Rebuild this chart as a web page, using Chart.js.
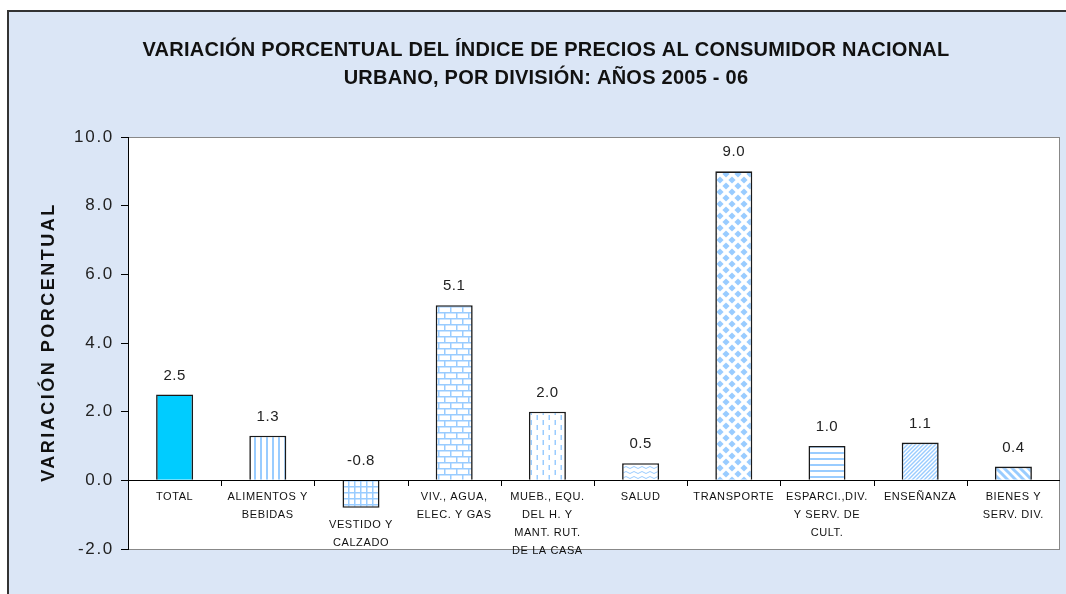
<!DOCTYPE html>
<html><head><meta charset="utf-8">
<script src="https://cdn.jsdelivr.net/npm/chart.js@4.4.1/dist/chart.umd.min.js"></script>
<style>html,body{margin:0;padding:0;background:#fff;}canvas{display:block;}</style>
</head><body>
<canvas id="c" width="1066" height="594"></canvas>
<script>
// ---- data ----
const titleLines = ['VARIACIÓN PORCENTUAL DEL ÍNDICE DE PRECIOS AL CONSUMIDOR NACIONAL', 'URBANO, POR DIVISIÓN: AÑOS 2005 - 06'];
const yAxisTitle = 'VARIACIÓN PORCENTUAL';
const categories = [
  ['TOTAL'],
  ['ALIMENTOS Y', 'BEBIDAS'],
  ['VESTIDO Y', 'CALZADO'],
  ['VIV., AGUA,', 'ELEC. Y GAS'],
  ['MUEB., EQU.', 'DEL H. Y', 'MANT. RUT.', 'DE LA CASA'],
  ['SALUD'],
  ['TRANSPORTE'],
  ['ESPARCI.,DIV.', 'Y SERV. DE', 'CULT.'],
  ['ENSEÑANZA'],
  ['BIENES Y', 'SERV. DIV.']
];
const values = [2.5, 1.3, -0.8, 5.1, 2.0, 0.5, 9.0, 1.0, 1.1, 0.4];
const yTicks = [-2, 0, 2, 4, 6, 8, 10];
const patternKinds = ['solid', 'vlines', 'grid', 'bricks', 'dashes', 'waves', 'diamonds', 'hlines', 'diagUp', 'diagDown'];

// ---- styles ----
const FONT = '"Liberation Sans", Arial, sans-serif';
const BLUE = '#99ccff';
const SOLID = '#00ccff';

function makePattern(kind) {
  if (kind === 'solid') return SOLID;
  const c = document.createElement('canvas');
  const g = c.getContext('2d');
  const sizes = {vlines:[6,1], grid:[6,6], bricks:[12,12], dashes:[12,10], waves:[8,5], diamonds:[12,12], hlines:[1,6], diagUp:[4,4], diagDown:[8,8]};
  const [w, h] = sizes[kind];
  c.width = w; c.height = h;
  g.fillStyle = '#fff'; g.fillRect(0, 0, w, h);
  g.fillStyle = BLUE; g.strokeStyle = BLUE;
  switch (kind) {
    case 'vlines': g.fillRect(2, 0, 2, 1); break;
    case 'grid': g.fillRect(0, 0, 6, 1.5); g.fillRect(0, 0, 1.5, 6); break;
    case 'bricks':
      g.fillRect(0, 0, 12, 1.5); g.fillRect(0, 6, 12, 1.5);
      g.fillRect(0, 0, 1.5, 6); g.fillRect(6, 6, 1.5, 6); break;
    case 'dashes': g.fillRect(2.5, 0, 1.5, 5); g.fillRect(8.5, 5, 1.5, 5); break;
    case 'waves':
      g.lineWidth = 1; g.beginPath(); g.moveTo(0, 2.5);
      g.quadraticCurveTo(2, 0.5, 4, 2.5); g.quadraticCurveTo(6, 4.5, 8, 2.5); g.stroke(); break;
    case 'diamonds': {
      const dia = (cx, cy, r) => { g.beginPath(); g.moveTo(cx, cy - r); g.lineTo(cx + r, cy); g.lineTo(cx, cy + r); g.lineTo(cx - r, cy); g.closePath(); g.fill(); };
      const r = 3.6;
      dia(6, 6, r); dia(0, 0, r); dia(12, 0, r); dia(0, 12, r); dia(12, 12, r); break;
    }
    case 'hlines': g.fillRect(0, 2, 1, 2); break;
    case 'diagUp':
      g.lineWidth = 1.4;
      for (const cc of [0, 4, 8]) { g.beginPath(); g.moveTo(-4, cc + 4); g.lineTo(8, cc - 8); g.stroke(); }
      break;
    case 'diagDown':
      g.lineWidth = 3;
      for (const cc of [-8, 0, 8]) { g.beginPath(); g.moveTo(-8, cc - 8); g.lineTo(16, cc + 16); g.stroke(); }
      break;
  }
  return g.createPattern(c, 'repeat');
}
const backgrounds = patternKinds.map(makePattern);

const deco = {
  id: 'deco',
  beforeDraw(chart) {
    const {ctx, chartArea: a} = chart;
    ctx.save();
    ctx.fillStyle = '#fff'; ctx.fillRect(0, 0, 1066, 594);
    ctx.fillStyle = '#dbe6f6'; ctx.fillRect(8, 11, 1058, 583);
    ctx.strokeStyle = '#333'; ctx.lineWidth = 2;
    ctx.beginPath(); ctx.moveTo(8, 594); ctx.lineTo(8, 11); ctx.lineTo(1066, 11); ctx.stroke();
    ctx.fillStyle = '#fff'; ctx.fillRect(a.left, a.top, a.right - a.left, a.bottom - a.top);
    ctx.strokeStyle = '#888'; ctx.lineWidth = 1;
    ctx.strokeRect(a.left + 0.5, a.top + 0.5, a.right - a.left - 1, a.bottom - a.top);
    // title
    ctx.fillStyle = '#111';
    ctx.font = 'bold 20px ' + FONT;
    ctx.letterSpacing = '0.25px';
    ctx.textAlign = 'center'; ctx.textBaseline = 'middle';
    titleLines.forEach((t, i) => ctx.fillText(t, 546, 50 + i * 28));
    ctx.restore();
    ctx.letterSpacing = '1.7px'; // for y tick labels
  },
  beforeDatasetsDraw(chart) { chart.ctx.letterSpacing = '0px'; },
  afterDatasetsDraw(chart) {
    const {ctx, chartArea: a} = chart;
    const meta = chart.getDatasetMeta(0);
    const ys = chart.scales.y;
    const y0 = ys.getPixelForValue(0);
    ctx.save();
    // zero line
    ctx.strokeStyle = '#000'; ctx.lineWidth = 1;
    ctx.beginPath(); ctx.moveTo(a.left, Math.round(y0) + 0.5); ctx.lineTo(a.right, Math.round(y0) + 0.5); ctx.stroke();
    // category tick marks
    for (let i = 1; i < meta.data.length; i++) {
      const x = Math.round((meta.data[i - 1].x + meta.data[i].x) / 2) + 0.5;
      ctx.beginPath(); ctx.moveTo(x, Math.round(y0)); ctx.lineTo(x, Math.round(y0) + 6); ctx.stroke();
    }
    // value labels
    ctx.fillStyle = '#222';
    ctx.font = '15px ' + FONT; ctx.letterSpacing = '0.5px';
    ctx.textAlign = 'center'; ctx.textBaseline = 'middle';
    values.forEach((v, i) => {
      ctx.fillText(v.toFixed(1), meta.data[i].x, ys.getPixelForValue(Math.max(v, 0)) - 19);
    });
    // category labels
    ctx.fillStyle = '#111';
    ctx.font = '11px ' + FONT; ctx.letterSpacing = '0.6px';
    categories.forEach((lines, i) => {
      const base = ys.getPixelForValue(Math.min(values[i], 0));
      lines.forEach((t, j) => ctx.fillText(t, meta.data[i].x, base + 17 + j * 18));
    });
    // y axis title
    ctx.translate(49, 342); ctx.rotate(-Math.PI / 2);
    ctx.font = 'bold 18px ' + FONT; ctx.letterSpacing = '2.5px';
    ctx.fillText(yAxisTitle, 0, 0);
    ctx.restore();
  }
};

new Chart(document.getElementById('c'), {
  type: 'bar',
  data: {
    labels: categories,
    datasets: [{
      data: values,
      backgroundColor: backgrounds,
      borderColor: '#1a1a1a',
      borderWidth: 1.6,
      borderSkipped: 'start',
      barPercentage: 0.397,
      categoryPercentage: 1
    }]
  },
  options: {
    responsive: false,
    animation: false,
    devicePixelRatio: 1,
    layout: {padding: {left: 0, right: 6, top: 137, bottom: 45}},
    plugins: {legend: {display: false}, tooltip: {enabled: false}, title: {display: false}},
    scales: {
      x: {display: false, offset: true},
      y: {
        min: -2, max: 10,
        afterFit(s) { s.width = 128; },
        afterBuildTicks(s) { s.ticks = yTicks.map(v => ({value: v})); },
        ticks: {callback: v => Number(v).toFixed(1), color: '#222', font: {family: FONT, size: 17}, padding: 7},
        grid: {color: 'rgba(0,0,0,0)', tickColor: '#000', tickLength: 7, lineWidth: 1},
        border: {color: '#000', width: 1}
      }
    }
  },
  plugins: [deco]
});
</script>
</body></html>
